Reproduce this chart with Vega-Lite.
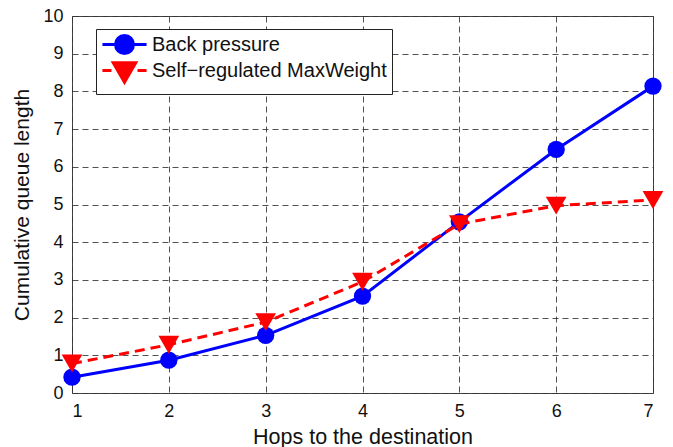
{
  "$schema": "https://vega.github.io/schema/vega-lite/v6.json",
  "width": 581,
  "height": 377,
  "autosize": {"type": "none"},
  "padding": {"left": 72, "top": 16, "right": 20, "bottom": 54},
  "background": "white",
  "config": {
    "font": "Liberation Sans",
    "view": {"stroke": "#444444", "strokeWidth": 1}
  },
  "data": {
    "values": [
      {"hops": 1, "q": 0.42, "series": "Back pressure"},
      {"hops": 2, "q": 0.87, "series": "Back pressure"},
      {"hops": 3, "q": 1.53, "series": "Back pressure"},
      {"hops": 4, "q": 2.57, "series": "Back pressure"},
      {"hops": 5, "q": 4.54, "series": "Back pressure"},
      {"hops": 6, "q": 6.46, "series": "Back pressure"},
      {"hops": 7, "q": 8.14, "series": "Back pressure"},
      {"hops": 1, "q": 0.78, "series": "Self−regulated MaxWeight"},
      {"hops": 2, "q": 1.28, "series": "Self−regulated MaxWeight"},
      {"hops": 3, "q": 1.88, "series": "Self−regulated MaxWeight"},
      {"hops": 4, "q": 2.95, "series": "Self−regulated MaxWeight"},
      {"hops": 5, "q": 4.48, "series": "Self−regulated MaxWeight"},
      {"hops": 6, "q": 4.97, "series": "Self−regulated MaxWeight"},
      {"hops": 7, "q": 5.12, "series": "Self−regulated MaxWeight"}
    ]
  },
  "encoding": {
    "x": {
      "field": "hops", "type": "quantitative",
      "scale": {"domain": [1, 7], "nice": false, "zero": false},
      "axis": {
        "title": "Hops to the destination", "values": [1, 2, 3, 4, 5, 6, 7], "format": "d",
        "domain": false, "ticks": false, "labelPadding": 9, "titlePadding": 6,
        "labelFont": "Liberation Sans", "labelFontSize": 18, "labelColor": "#111111",
        "titleFont": "Liberation Sans", "titleFontSize": 21.5, "titleFontWeight": "normal", "titleColor": "#111111",
        "grid": true, "gridColor": "#333333", "gridDash": [6, 4], "gridWidth": 1, "gridOpacity": 0.85
      }
    },
    "y": {
      "field": "q", "type": "quantitative",
      "scale": {"domain": [0, 10], "nice": false},
      "axis": {
        "title": "Cumulative queue length", "values": [0, 1, 2, 3, 4, 5, 6, 7, 8, 9, 10], "format": "d",
        "domain": false, "ticks": false, "labelPadding": 9, "titlePadding": 10,
        "labelFont": "Liberation Sans", "labelFontSize": 18, "labelColor": "#111111",
        "titleFont": "Liberation Sans", "titleFontSize": 21, "titleFontWeight": "normal", "titleColor": "#111111",
        "grid": true, "gridColor": "#333333", "gridDash": [6, 4], "gridWidth": 1, "gridOpacity": 0.85
      }
    }
  },
  "layer": [
    {
      "transform": [{"filter": "datum.series === 'Back pressure'"}],
      "mark": {"type": "line", "strokeWidth": 3, "color": "#0000ff", "clip": false}
    },
    {
      "transform": [{"filter": "datum.series === 'Back pressure'"}],
      "mark": {"type": "point", "shape": "circle", "filled": true, "size": 300, "color": "#0000ff", "opacity": 1, "clip": false}
    },
    {
      "transform": [{"filter": "datum.series !== 'Back pressure'"}],
      "mark": {"type": "line", "strokeWidth": 3, "color": "#ff0000", "strokeDash": [10, 6], "clip": false}
    },
    {
      "transform": [{"filter": "datum.series !== 'Back pressure'"}],
      "mark": {"type": "point", "shape": "triangle-down", "filled": true, "size": 430, "color": "#ff0000", "opacity": 1, "clip": false}
    },
    {
      "transform": [{"filter": "datum.hops > 100"}],
      "mark": {"type": "point", "filled": true, "strokeWidth": 3, "opacity": 1, "size": 324},
      "encoding": {
        "color": {
          "field": "series", "type": "nominal",
          "scale": {"domain": ["Back pressure", "Self−regulated MaxWeight"], "range": ["#0000ff", "#ff0000"]},
          "legend": {
            "title": null,
            "orient": "none",
            "legendX": 24,
            "legendY": 13,
            "strokeColor": "#222222",
            "fillColor": "white",
            "padding": 5,
            "rowPadding": -5,
            "symbolOffset": 13,
            "labelOffset": 17,
            "labelFont": "Liberation Sans",
            "labelFontSize": 20,
            "labelColor": "#111111",
            "labelLimit": 400,
            "symbolSize": 324,
            "symbolStrokeWidth": 3,
            "symbolOpacity": 1
          }
        },
        "stroke": {
          "field": "series", "type": "nominal",
          "scale": {"domain": ["Back pressure", "Self−regulated MaxWeight"], "range": ["#0000ff", "#ff0000"]}
        },
        "shape": {
          "field": "series", "type": "nominal",
          "scale": {
            "domain": ["Back pressure", "Self−regulated MaxWeight"],
            "range": [
              "M-2.45,0L2.45,0M-1,0A1,1,0,1,0,1,0A1,1,0,1,0,-1,0Z",
              "M-2.45,0L-1.45,0M1.45,0L2.45,0M-1.25,-0.85L1.25,-0.85L0,1.3Z"
            ]
          }
        }
      }
    }
  ]
}
